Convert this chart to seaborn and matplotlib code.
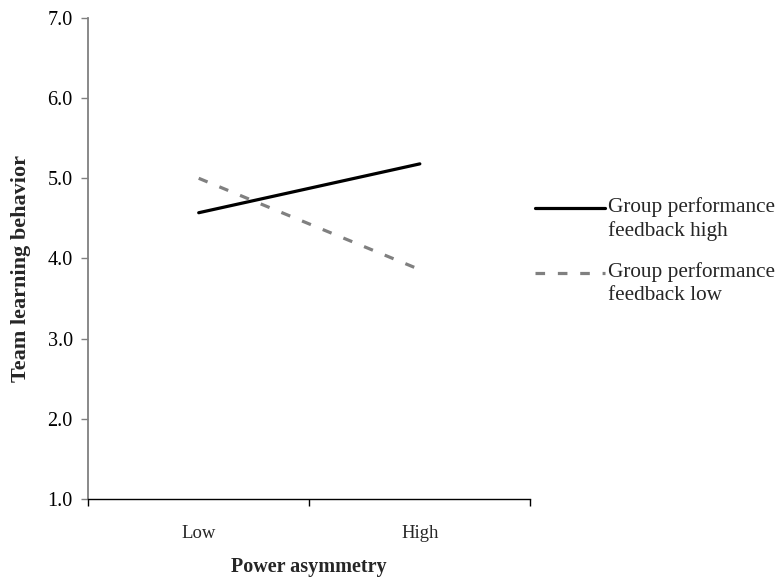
import matplotlib
matplotlib.use("Agg")
import matplotlib.pyplot as plt
import pandas as pd
import seaborn as sns

# Data
categories = ["Low", "High"]
feedback_high = [4.57, 5.18]
feedback_low = [5.00, 3.86]
series_names = ["Group performance\nfeedback high", "Group performance\nfeedback low"]

df = pd.DataFrame({
    "Power asymmetry": categories * 2,
    "value": feedback_high + feedback_low,
    "group": [series_names[0]] * 2 + [series_names[1]] * 2,
})

sns.set_style("white")
plt.rcParams["font.family"] = ["Liberation Serif", "DejaVu Serif"]

fig = plt.figure(figsize=(7.8, 5.82), dpi=100)
ax = fig.add_axes([0.113, 0.143, 0.567, 0.826])

# Draw lines
sns.lineplot(
    data=df, x="Power asymmetry", y="value", hue="group", style="group",
    palette=["black", "#808080"], dashes=[(None, None), (3, 4)],
    linewidth=2.3, sort=False, ax=ax, legend=False,
)

# Axes limits and ticks
ax.set_ylim(1, 7)
ax.set_xlim(-0.5, 1.5)
ax.set_yticks([1, 2, 3, 4, 5, 6, 7])
ax.set_yticklabels([f"{v:.1f}" for v in range(1, 8)], fontsize=14.5)
ax.set_xticks([-0.5, 0.5, 1.5])
ax.set_xticklabels(["", "", ""])
ax.set_xticks([0, 1], minor=True)
ax.set_xticklabels(categories, minor=True, fontsize=13.5)
ax.tick_params(axis="x", which="minor", length=0, pad=19)
ax.tick_params(axis="x", which="major", direction="out", length=5, width=1, colors="black", bottom=True)
ax.tick_params(axis="y", which="major", direction="out", length=5, width=1, color="#808080",
               labelcolor="black", left=True, pad=6)

sns.despine(ax=ax)
ax.spines["left"].set_color("#808080")
ax.spines["left"].set_linewidth(1.3)
ax.spines["bottom"].set_color("black")
ax.spines["bottom"].set_linewidth(1)

ax.set_xlabel("Power asymmetry", fontsize=14.5, fontweight="bold", labelpad=11)
ax.set_ylabel("Team learning behavior", fontsize=16, fontweight="bold")
ax.yaxis.set_label_coords(-0.129, 0.478)

# Legend
handles = ax.get_lines()[:2]
leg = ax.legend(handles, series_names, loc="upper left", bbox_to_anchor=(1.011, 0.627),
                frameon=False, fontsize=15.3, handlelength=3.3, handletextpad=0.14,
                labelspacing=1.0, borderaxespad=0, borderpad=0)
for t in leg.get_texts():
    t.set_linespacing(1.25)

# Move each legend line up so it sits level with the first line of its label
fig.canvas.draw()
for line, txt in zip(leg.get_lines(), leg.get_texts()):
    bb = txt.get_window_extent()
    target = bb.y1 - bb.height / 4
    cur = line.get_transform().transform((0, line.get_ydata()[0]))[1]
    dy = (target - cur) * 72 / fig.dpi
    line.set_ydata([y + dy for y in line.get_ydata()])

fig.savefig("out.png", dpi=100)
